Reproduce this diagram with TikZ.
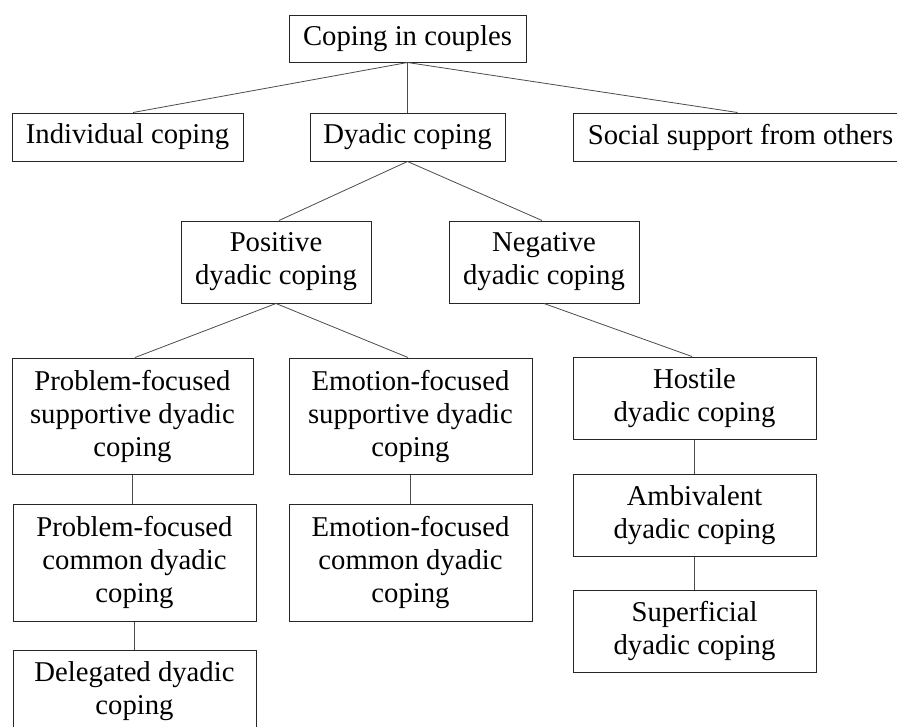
\documentclass[tikz,border=0pt]{standalone}
\usepackage{fontspec}
\setmainfont{Liberation Serif}
\begin{document}
\begin{tikzpicture}[x=1pt,y=-1pt,
  box/.style={draw=black!85, line width=1pt, fill=white, inner sep=0pt, align=center,
    font=\fontsize{28.7}{33}\selectfont},
  link/.style={draw=black!70, line width=0.8pt}]
\clip (0,0) rectangle (897,726);
\fill[white] (0,0) rectangle (897,726);
\node[box, minimum width=237pt, minimum height=47pt] (top) at (407.5,38.5) {Coping in couples};
\node[box, minimum width=231pt, minimum height=48pt] (ind) at (127.5,137) {Individual coping};
\node[box, minimum width=195pt, minimum height=48pt] (dya) at (407.5,137) {Dyadic coping};
\node[box, minimum width=335pt, minimum height=48pt] (soc) at (740.5,137) {Social support from others};
\node[box, minimum width=190pt, minimum height=82pt] (pos) at (276,262) {Positive\\dyadic coping};
\node[box, minimum width=190pt, minimum height=82pt] (neg) at (544,262) {Negative\\dyadic coping};
\node[box, minimum width=241pt, minimum height=116pt] (pfs) at (132.5,416) {Problem-focused\\supportive dyadic\\coping};
\node[box, minimum width=243pt, minimum height=116pt] (efs) at (410.5,416) {Emotion-focused\\supportive dyadic\\coping};
\node[box, minimum width=243pt, minimum height=82pt] (hos) at (694.5,398) {Hostile\\dyadic coping};
\node[box, minimum width=243pt, minimum height=117pt] (pfc) at (134.5,562.5) {Problem-focused\\common dyadic\\coping};
\node[box, minimum width=243pt, minimum height=117pt] (efc) at (410.5,562.5) {Emotion-focused\\common dyadic\\coping};
\node[box, minimum width=243pt, minimum height=82pt] (del) at (134.5,691) {Delegated dyadic\\coping};
\node[box, minimum width=243pt, minimum height=82pt] (amb) at (694.5,515) {Ambivalent\\dyadic coping};
\node[box, minimum width=243pt, minimum height=82pt] (sup) at (694.5,631) {Superficial\\dyadic coping};
\draw[link] (top.south) -- ([xshift=5.5pt]ind.north);
\draw[link] (top.south) -- (dya.north);
\draw[link] (top.south) -- ([xshift=-3pt]soc.north);
\draw[link] (dya.south) -- ([xshift=3pt]pos.north);
\draw[link] (dya.south) -- ([xshift=-2pt]neg.north);
\draw[link] (pos.south) -- ([xshift=2.5pt]pfs.north);
\draw[link] (pos.south) -- ([xshift=-2.5pt]efs.north);
\draw[link] (neg.south) -- ([xshift=-2.5pt]hos.north);
\draw[link] (pfs.south) -- (pfs.south |- pfc.north);
\draw[link] (pfc.south) -- (pfc.south |- del.north);
\draw[link] (efs.south) -- (efs.south |- efc.north);
\draw[link] (hos.south) -- (hos.south |- amb.north);
\draw[link] (amb.south) -- (amb.south |- sup.north);
\end{tikzpicture}
\end{document}
